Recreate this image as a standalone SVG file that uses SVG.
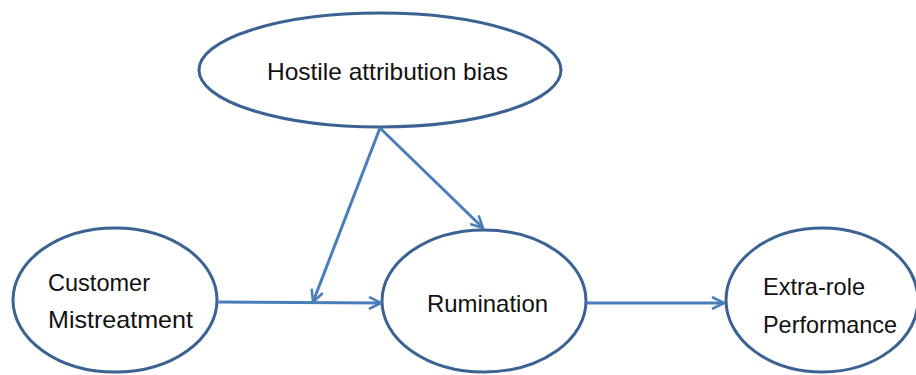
<svg xmlns="http://www.w3.org/2000/svg" width="916" height="375" viewBox="0 0 916 375">
<style>
.node ellipse{fill:#fff;stroke:#3b6292;stroke-width:3}
.node text{font-family:"Liberation Sans",Arial,sans-serif;font-size:24px;fill:#111}
.conn line{stroke:#4a7ebb;stroke-width:3;fill:none}
</style>
<defs>
<marker id="arr" viewBox="0 0 14 14" refX="13" refY="7" markerWidth="14" markerHeight="14" markerUnits="userSpaceOnUse" orient="auto">
<polyline points="1,1 13,7 1,13" fill="none" stroke="#4a7ebb" stroke-width="2.6"/>
</marker>
</defs>
<rect width="916" height="375" fill="#fff"/>
<g id="hostile" class="node">
<ellipse cx="380" cy="70" rx="181" ry="57"/>
<text x="267" y="80" textLength="241" lengthAdjust="spacingAndGlyphs">Hostile attribution bias</text>
</g>
<g id="customer" class="node">
<ellipse cx="115" cy="300" rx="102" ry="72"/>
<text x="48" y="291" textLength="102" lengthAdjust="spacingAndGlyphs">Customer</text>
<text x="48" y="328" textLength="145" lengthAdjust="spacingAndGlyphs">Mistreatment</text>
</g>
<g id="rumination" class="node">
<ellipse cx="484" cy="301" rx="102" ry="71"/>
<text x="427" y="312" textLength="121" lengthAdjust="spacingAndGlyphs">Rumination</text>
</g>
<g id="extra" class="node">
<ellipse cx="822" cy="300" rx="96" ry="72"/>
<text x="763" y="295" textLength="102" lengthAdjust="spacingAndGlyphs">Extra-role</text>
<text x="763" y="333" textLength="134" lengthAdjust="spacingAndGlyphs">Performance</text>
</g>
<g id="connectors" class="conn">
<line x1="217" y1="302" x2="381" y2="303" marker-end="url(#arr)"/>
<line x1="586" y1="303" x2="724" y2="303" marker-end="url(#arr)"/>
<line x1="380" y1="128" x2="313" y2="302" marker-end="url(#arr)"/>
<line x1="380" y1="128" x2="483" y2="228" marker-end="url(#arr)"/>
</g>
</svg>
